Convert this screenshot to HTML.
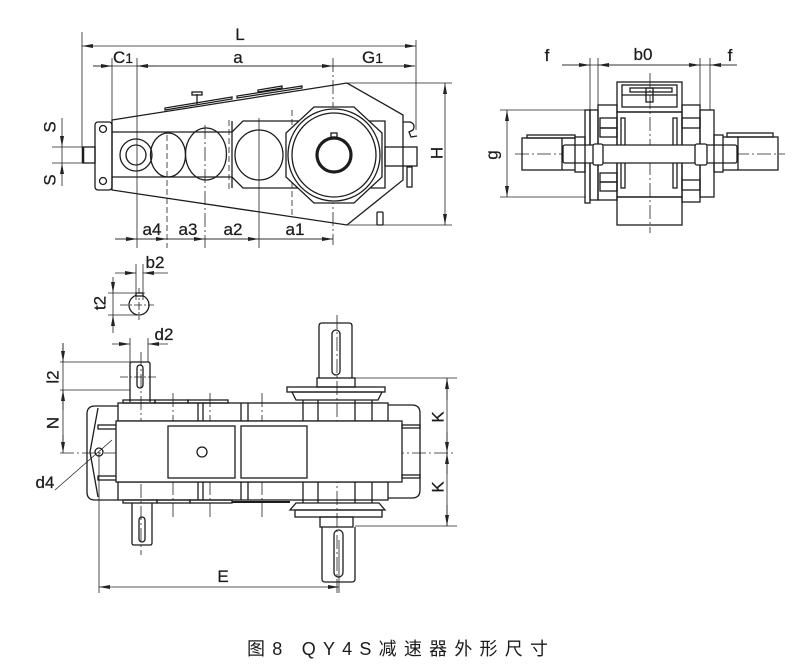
<!DOCTYPE html>
<html><head><meta charset="utf-8"><style>
html,body{margin:0;padding:0;background:#fff;}
svg{display:block;}
text{font-family:"Liberation Sans","Noto Sans CJK SC",sans-serif;fill:#1c1c1c;}
</style></head><body>
<svg width="800" height="664" viewBox="0 0 800 664" xmlns="http://www.w3.org/2000/svg">
<defs>
<marker id="ar" viewBox="0 0 11 4" refX="11" refY="2" markerWidth="11" markerHeight="4" orient="auto-start-reverse" markerUnits="userSpaceOnUse"><path d="M0,0 L11,2 L0,4 z" fill="#222"/></marker>
</defs>
<rect width="800" height="664" fill="#fff"/>

<!-- ============ TOP-LEFT VIEW ============ -->
<g fill="none" stroke="#222" stroke-width="0.8">
  <line x1="82" y1="32" x2="82" y2="147"/>
  <line x1="416" y1="40" x2="416" y2="130"/>
  <line x1="112" y1="58" x2="112" y2="120"/>
  <line x1="137" y1="58" x2="137" y2="248"/>
  <line x1="333" y1="58" x2="333" y2="245" stroke-dasharray="14,3,2,3"/>
  <line x1="348" y1="83" x2="452" y2="83"/>
  <line x1="347" y1="225" x2="452" y2="225"/>
  <line x1="52" y1="147" x2="83" y2="147"/>
  <line x1="52" y1="163" x2="83" y2="163"/>
  <line x1="167" y1="135" x2="167" y2="248" stroke-dasharray="6,3"/>
  <line x1="205" y1="125" x2="205" y2="248" stroke-dasharray="14,3,2,3"/>
  <line x1="229" y1="120" x2="229" y2="190" stroke-dasharray="6,3"/>
  <line x1="259" y1="118" x2="259" y2="248"/>
  <line x1="292" y1="110" x2="292" y2="215" stroke-dasharray="6,3"/>
  <line x1="82" y1="46" x2="416" y2="46" marker-start="url(#ar)" marker-end="url(#ar)"/>
  <line x1="93" y1="66" x2="415" y2="66"/>
  <line x1="93" y1="66" x2="112" y2="66" marker-end="url(#ar)"/>
  <line x1="156" y1="66" x2="137" y2="66" marker-end="url(#ar)"/>
  <line x1="137" y1="66" x2="333" y2="66" marker-end="url(#ar)"/>
  <line x1="333" y1="66" x2="415" y2="66" marker-end="url(#ar)"/>
  <line x1="445" y1="83" x2="445" y2="225" marker-start="url(#ar)" marker-end="url(#ar)"/>
  <line x1="62" y1="118" x2="62" y2="147" marker-end="url(#ar)"/>
  <line x1="62" y1="186" x2="62" y2="163" marker-end="url(#ar)"/>
  <line x1="62" y1="147" x2="62" y2="163"/>
  <line x1="115" y1="239" x2="333" y2="239"/>
  <line x1="115" y1="239" x2="137" y2="239" marker-end="url(#ar)"/>
  <line x1="137" y1="239" x2="167" y2="239" marker-end="url(#ar)"/>
  <line x1="167" y1="239" x2="205" y2="239" marker-end="url(#ar)"/>
  <line x1="205" y1="239" x2="259" y2="239" marker-end="url(#ar)"/>
  <line x1="259" y1="239" x2="333" y2="239" marker-end="url(#ar)"/>
</g>

<g fill="none" stroke="#1c1c1c" stroke-width="1.3">
  <path d="M112,120 L347,83 L403,115 L403,180 L347,225 L112,190 Z"/>
  <rect x="95" y="122" width="17" height="68" rx="3"/>
  <circle cx="103" cy="129" r="3.5"/>
  <circle cx="103" cy="181" r="3.5"/>
  <rect x="83" y="147" width="12" height="16"/>
  <line x1="83" y1="147" x2="83" y2="163" stroke-width="2.5"/>
  <path d="M112,132 L232,132 L243,121 L385,121 L385,188 L243,188 L232,177 L112,177"/>
  <line x1="232" y1="121" x2="232" y2="188"/>
  <circle cx="136" cy="155" r="16"/>
  <circle cx="136" cy="155" r="10"/>
  <ellipse cx="168" cy="155" rx="17.5" ry="22"/>
  <ellipse cx="206" cy="154" rx="20.5" ry="26"/>
  <ellipse cx="259" cy="155" rx="24" ry="25"/>
  <path d="M314,107 L354,107 L382,133 L382,177 L354,203 L314,203 L286,177 L286,133 Z" fill="#fff"/>
  <circle cx="334" cy="155" r="46"/>
  <circle cx="334" cy="155" r="42"/>
  <circle cx="334" cy="155" r="17" stroke-width="3.2"/>
  <rect x="331" y="133" width="6" height="4"/>
  <rect x="385" y="147" width="32" height="19"/>
  <path d="M403,122 L410,122 Q416,124 413,130 L409,132 L411,137 L417,136"/>
  <rect x="407" y="167" width="5" height="20"/>
  <rect x="377" y="212" width="6" height="13" rx="1"/>
  <path d="M165,110 L232,99 L232,97 L165,108 Z"/>
  <path d="M237,98 L302,88 L302,86 L237,96 Z"/>
  <path d="M258,92 L282,88 L282,86 L258,90 Z"/>
  <line x1="197" y1="94" x2="197" y2="104"/>
  <rect x="192" y="92" width="10" height="3"/>
</g>

<!-- ============ TOP-RIGHT VIEW ============ -->
<g fill="none" stroke="#222" stroke-width="0.8">
  <line x1="590" y1="58" x2="590" y2="110"/>
  <line x1="598" y1="58" x2="598" y2="105"/>
  <line x1="700" y1="58" x2="700" y2="105"/>
  <line x1="710" y1="58" x2="710" y2="110"/>
  <line x1="562" y1="65" x2="737" y2="65"/>
  <line x1="562" y1="65" x2="590" y2="65" marker-end="url(#ar)"/>
  <line x1="598" y1="65" x2="700" y2="65" marker-start="url(#ar)" marker-end="url(#ar)"/>
  <line x1="737" y1="65" x2="710" y2="65" marker-end="url(#ar)"/>
  <line x1="500" y1="110" x2="586" y2="110"/>
  <line x1="500" y1="197" x2="586" y2="197"/>
  <line x1="507" y1="110" x2="507" y2="197" marker-start="url(#ar)" marker-end="url(#ar)"/>
  <line x1="650" y1="73" x2="650" y2="233" stroke-dasharray="14,3,2,3"/>
  <line x1="515" y1="154" x2="785" y2="154" stroke-dasharray="14,3,2,3"/>
</g>
<g fill="none" stroke="#1c1c1c" stroke-width="1.3">
  <rect x="617" y="82" width="65" height="30"/>
  <rect x="622" y="85" width="55" height="22"/>
  <line x1="622" y1="95" x2="677" y2="95"/>
  <rect x="630" y="88" width="42" height="4"/>
  <rect x="646" y="88" width="7" height="14"/>
  <rect x="617" y="112" width="65" height="85"/>
  <rect x="617" y="197" width="65" height="28"/>
  <rect x="598" y="105" width="19" height="95"/>
  <rect x="600" y="118" width="17" height="10"/>
  <rect x="600" y="128" width="17" height="9"/>
  <rect x="600" y="173" width="17" height="9"/>
  <rect x="600" y="182" width="17" height="9"/>
  <rect x="590" y="110" width="8" height="90"/>
  <rect x="585" y="110" width="5" height="93"/>
  <rect x="682" y="105" width="18" height="97"/>
  <rect x="682" y="118" width="18" height="10"/>
  <rect x="682" y="180" width="18" height="10"/>
  <rect x="700" y="110" width="14" height="87"/>
  <rect x="621" y="118" width="4" height="70"/>
  <rect x="673" y="118" width="4" height="70"/>
  <rect x="563" y="145" width="174" height="18" rx="2" fill="#fff"/>
  <rect x="593" y="144" width="10" height="21" rx="2" fill="#fff"/>
  <rect x="695" y="144" width="12" height="21" rx="2" fill="#fff"/>
  <rect x="522" y="138" width="40" height="32"/>
  <line x1="562" y1="138" x2="575" y2="138"/>
  <line x1="562" y1="170" x2="575" y2="170"/>
  <rect x="527" y="135" width="48" height="3"/>
  <rect x="575" y="137" width="10" height="35"/>
  <rect x="738" y="137" width="40" height="33"/>
  <line x1="723" y1="137" x2="738" y2="137"/>
  <line x1="723" y1="170" x2="738" y2="170"/>
  <rect x="727" y="133" width="46" height="4"/>
  <rect x="714" y="135" width="9" height="37"/>
</g>

<!-- ============ BOTTOM VIEW ============ -->
<g fill="none" stroke="#222" stroke-width="0.8">
  <line x1="136" y1="264" x2="136" y2="300"/>
  <line x1="143" y1="264" x2="143" y2="300"/>
  <line x1="115" y1="273" x2="136" y2="273" marker-end="url(#ar)"/>
  <line x1="168" y1="273" x2="143" y2="273" marker-end="url(#ar)"/>
  <line x1="108" y1="293" x2="145" y2="293"/>
  <line x1="108" y1="315" x2="140" y2="315"/>
  <line x1="113" y1="277" x2="113" y2="293" marker-end="url(#ar)"/>
  <line x1="113" y1="333" x2="113" y2="315" marker-end="url(#ar)"/>
  <line x1="113" y1="293" x2="113" y2="315"/>
  <line x1="120" y1="305" x2="154" y2="305" stroke-dasharray="8,2,2,2"/>
  <line x1="139" y1="288" x2="139" y2="320" stroke-dasharray="8,2,2,2"/>
  <line x1="130" y1="338" x2="130" y2="362"/>
  <line x1="148" y1="338" x2="148" y2="362"/>
  <line x1="112" y1="344" x2="130" y2="344" marker-end="url(#ar)"/>
  <line x1="168" y1="344" x2="148" y2="344" marker-end="url(#ar)"/>
  <line x1="60" y1="362" x2="130" y2="362"/>
  <line x1="60" y1="390" x2="130" y2="390"/>
  <line x1="63" y1="343" x2="63" y2="447"/>
  <line x1="63" y1="343" x2="63" y2="362" marker-end="url(#ar)"/>
  <line x1="63" y1="410" x2="63" y2="390" marker-end="url(#ar)"/>
  <line x1="63" y1="435" x2="63" y2="453" marker-end="url(#ar)"/>
  <line x1="60" y1="453" x2="455" y2="453" stroke-dasharray="14,3,2,3"/>
  <line x1="120" y1="377" x2="158" y2="377" stroke-dasharray="8,2,2,2"/>
  <line x1="141" y1="352" x2="141" y2="555" stroke-dasharray="14,3,2,3"/>
  <line x1="173" y1="393" x2="173" y2="520" stroke-dasharray="14,3,2,3"/>
  <line x1="210" y1="393" x2="210" y2="520" stroke-dasharray="14,3,2,3"/>
  <line x1="262" y1="393" x2="262" y2="520" stroke-dasharray="14,3,2,3"/>
  <line x1="337" y1="315" x2="337" y2="595" stroke-dasharray="14,3,2,3"/>
  <line x1="355" y1="378" x2="457" y2="378"/>
  <line x1="355" y1="526" x2="457" y2="526"/>
  <line x1="447" y1="378" x2="447" y2="526"/>
  <line x1="447" y1="400" x2="447" y2="378" marker-end="url(#ar)"/>
  <line x1="447" y1="432" x2="447" y2="453" marker-end="url(#ar)"/>
  <line x1="447" y1="474" x2="447" y2="453" marker-end="url(#ar)"/>
  <line x1="447" y1="505" x2="447" y2="526" marker-end="url(#ar)"/>
  <line x1="99" y1="452" x2="99" y2="593"/>
  <line x1="339" y1="540" x2="339" y2="593"/>
  <line x1="99" y1="587" x2="339" y2="587" marker-start="url(#ar)" marker-end="url(#ar)"/>
  <line x1="55" y1="490" x2="112" y2="440"/>
</g>

<g fill="none" stroke="#1c1c1c" stroke-width="1.3">
  <circle cx="139" cy="305" r="10"/>
  <rect x="136" y="293" width="7" height="3" fill="#fff"/>
  <path d="M118,406 L95,406 Q87,406 87,414 L87,492 Q87,500 95,500 L118,500"/>
  <polyline points="98,408 90,452 98,497"/>
  <rect x="98" y="425" width="19" height="4"/>
  <rect x="98" y="476" width="19" height="4"/>
  <circle cx="99" cy="452" r="4"/>
  <rect x="118" y="403" width="270" height="18"/>
  <rect x="118" y="482" width="270" height="18"/>
  <rect x="116" y="421" width="286" height="61" fill="#fff"/>
  <rect x="123" y="400" width="32" height="3"/>
  <rect x="155" y="400" width="33" height="3"/>
  <rect x="188" y="400" width="40" height="3"/>
  <rect x="123" y="500" width="34" height="3"/>
  <rect x="157" y="500" width="33" height="3"/>
  <rect x="190" y="500" width="42" height="3"/>
  <line x1="232" y1="502" x2="290" y2="502" stroke-width="2"/>
  <line x1="198" y1="403" x2="198" y2="421"/><line x1="203" y1="403" x2="203" y2="421"/>
  <line x1="241" y1="403" x2="241" y2="421"/><line x1="248" y1="403" x2="248" y2="421"/>
  <line x1="198" y1="482" x2="198" y2="500"/><line x1="203" y1="482" x2="203" y2="500"/>
  <line x1="241" y1="482" x2="241" y2="500"/><line x1="248" y1="482" x2="248" y2="500"/>
  <line x1="303" y1="400" x2="303" y2="421"/><line x1="318" y1="400" x2="318" y2="421"/>
  <line x1="355" y1="400" x2="355" y2="421"/><line x1="372" y1="400" x2="372" y2="421"/>
  <line x1="303" y1="482" x2="303" y2="503"/><line x1="318" y1="482" x2="318" y2="503"/>
  <line x1="355" y1="482" x2="355" y2="503"/><line x1="372" y1="482" x2="372" y2="503"/>
  <rect x="168" y="426" width="67" height="52"/>
  <rect x="241" y="426" width="66" height="52"/>
  <circle cx="202" cy="452" r="5"/>
  <path d="M388,405 L412,405 Q420,405 420,413 L420,490 Q420,498 412,498 L388,498"/>
  <rect x="402" y="425" width="18" height="3"/>
  <rect x="402" y="475" width="18" height="3"/>
  <path d="M319,378 L319,326 Q319,323 322,323 L349,323 Q352,323 352,326 L352,378"/>
  <rect x="332" y="330" width="8" height="45" rx="4"/>
  <rect x="317" y="378" width="38" height="9"/>
  <rect x="287" y="387" width="98" height="5"/>
  <path d="M292,392 L382,392 L378,400 L296,400 Z"/>
  <path d="M296,503 L379,503 L385,510 L290,510 Z"/>
  <rect x="295" y="510" width="87" height="7"/>
  <rect x="320" y="517" width="33" height="10"/>
  <path d="M322,527 L322,579 Q322,582 325,582 L352,582 Q355,582 355,579 L355,527"/>
  <rect x="334" y="530" width="9" height="47" rx="4.5"/>
  <path d="M130,402 L130,364 Q130,362 132,362 L148,362 Q150,362 150,364 L150,402"/>
  <rect x="137" y="365" width="6" height="23" rx="3"/>
  <path d="M132,503 L132,543 Q132,545 134,545 L150,545 Q152,545 152,543 L152,503"/>
  <rect x="139" y="517" width="6" height="25" rx="3"/>
</g>

<!-- ============ LABELS ============ -->
<g font-size="17" stroke="#1c1c1c" stroke-width="0.25">
  <text x="240" y="40" text-anchor="middle">L</text>
  <text x="113" y="63">C<tspan font-size="14">1</tspan></text>
  <text x="238" y="63" text-anchor="middle">a</text>
  <text x="362" y="63">G<tspan font-size="14">1</tspan></text>
  <text x="152" y="235" text-anchor="middle">a4</text>
  <text x="188" y="235" text-anchor="middle">a3</text>
  <text x="233" y="235" text-anchor="middle">a2</text>
  <text x="295" y="235" text-anchor="middle">a1</text>
  <text transform="translate(437,153) rotate(-90)" text-anchor="middle" dominant-baseline="central">H</text>
  <text transform="translate(50,127) rotate(-90)" text-anchor="middle" dominant-baseline="central">S</text>
  <text transform="translate(50,180) rotate(-90)" text-anchor="middle" dominant-baseline="central">S</text>
  <text x="547" y="61" text-anchor="middle">f</text>
  <text x="643" y="60" text-anchor="middle">b0</text>
  <text x="730" y="61" text-anchor="middle">f</text>
  <text transform="translate(492,155) rotate(-90)" text-anchor="middle" dominant-baseline="central">g</text>
  <text x="155" y="268" text-anchor="middle">b2</text>
  <text transform="translate(100,303) rotate(-90)" text-anchor="middle" dominant-baseline="central">t2</text>
  <text x="164" y="340" text-anchor="middle">d2</text>
  <text transform="translate(53,377) rotate(-90)" text-anchor="middle" dominant-baseline="central">l2</text>
  <text transform="translate(53,423) rotate(-90)" text-anchor="middle" dominant-baseline="central">N</text>
  <text transform="translate(438,417) rotate(-90)" text-anchor="middle" dominant-baseline="central">K</text>
  <text transform="translate(438,487) rotate(-90)" text-anchor="middle" dominant-baseline="central">K</text>
  <text x="45" y="488" text-anchor="middle">d4</text>
  <text x="223" y="582" text-anchor="middle">E</text>
</g>
<text x="247" y="655" font-size="18" textLength="301" lengthAdjust="spacing">图8  QY4S减速器外形尺寸</text>
</svg>
</body></html>
